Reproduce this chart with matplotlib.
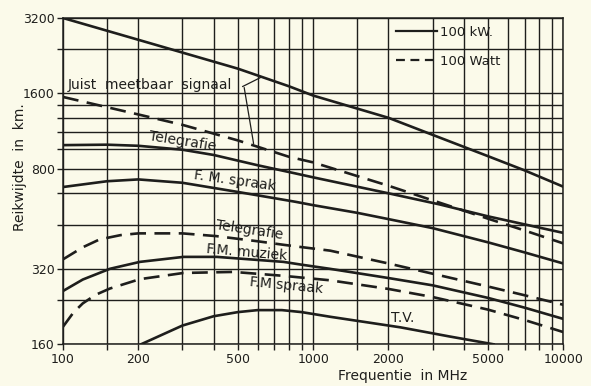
import matplotlib
matplotlib.use("Agg")
import matplotlib.pyplot as plt
from matplotlib.ticker import FixedLocator, FixedFormatter, NullLocator
from matplotlib.lines import Line2D

# ---------------- data ----------------
# 100 kW, "juist meetbaar signaal"
f_juist_kw = [100, 200, 300, 500, 800, 1000, 2000, 3000, 5000, 7000, 10000]
v_juist_kw = [3200, 2620, 2330, 2010, 1710, 1570, 1280, 1095, 900, 790, 680]
# 100 Watt, "juist meetbaar signaal"
f_juist_w = [100, 200, 300, 500, 800, 1000, 2000, 3000, 5000, 7000, 10000]
v_juist_w = [1550, 1320, 1200, 1040, 895, 850, 686, 600, 507, 455, 404]
# 100 kW Telegrafie
f_tel_kw = [100, 150, 200, 300, 400, 600, 850, 1000, 2000, 3200, 5000, 10000]
v_tel_kw = [996, 1000, 990, 955, 910, 828, 768, 741, 640, 578, 518, 445]
# 100 kW F.M. spraak
f_fms_kw = [100, 150, 200, 300, 500, 850, 1000, 1500, 2000, 3000, 5000, 7000, 10000]
v_fms_kw = [678, 715, 727, 705, 648, 592, 574, 535, 505, 465, 408, 372, 336]
# 100 Watt Telegrafie
f_tel_w = [100, 120, 140, 170, 200, 300, 410, 600, 760, 890, 1170, 2000, 3000, 5000, 7000, 10000]
v_tel_w = [349, 390, 419, 436, 443, 443, 432, 412, 399, 391, 378, 336, 306, 272, 251, 230]
# 100 kW F.M. muziek
f_fmm_kw = [100, 120, 154, 203, 303, 412, 761, 887, 1166, 2000, 3000, 5000, 7000, 10000]
v_fmm_kw = [261, 290, 320, 341, 357, 357, 341, 333, 320, 294, 275, 245, 224, 202]
# 100 Watt F.M. spraak
f_fms_w = [100, 110, 120, 135, 154, 203, 303, 480, 761, 1166, 2000, 3000, 5000, 7000, 10000]
v_fms_w = [188, 214, 233, 252, 267, 291, 308, 311, 300, 288, 266, 247, 220, 200, 179]
# 100 kW T.V.
f_tv_kw = [205, 250, 300, 400, 500, 600, 750, 900, 1170, 2230, 3500, 5265]
v_tv_kw = [160, 175, 190, 207, 215, 219, 219, 215, 206, 187, 172, 160]

x_grid = [100, 150, 200, 300, 400, 500, 600, 700, 800, 900, 1000, 1500, 2000,
          3000, 4000, 5000, 6000, 7000, 8000, 9000, 10000]
x_labels = {100: "100", 200: "200", 500: "500", 1000: "1000", 2000: "2000",
            5000: "5000", 10000: "10000"}
y_grid = [160, 240, 320, 480, 640, 800, 960, 1120, 1280, 1440, 1600, 2400, 3200]
y_labels = {160: "160", 320: "320", 800: "800", 1600: "1600", 3200: "3200"}

legend_labels = ["100 kW.", "100 Watt"]
x_title = "Frequentie  in MHz"
y_title = "Reikwijdte  in  km."

# ---------------- style ----------------
BG = "#fbfaea"
INK = "#1e1e1c"
plt.rcParams["font.family"] = ["DejaVu Sans"]

fig = plt.figure(figsize=(5.91, 3.86), dpi=100, facecolor=BG)
ax = fig.add_axes([63 / 591, 1 - 344.3 / 386, 500.3 / 591, 326.3 / 386])
ax.set_facecolor(BG)
ax.set_xscale("log")
ax.set_yscale("log")
ax.set_xlim(100, 10000)
ax.set_ylim(160, 3200)

for s in ax.spines.values():
    s.set_color(INK)
    s.set_linewidth(1.1)

ax.xaxis.set_major_locator(FixedLocator(x_grid))
ax.xaxis.set_major_formatter(FixedFormatter([x_labels.get(v, "") for v in x_grid]))
ax.xaxis.set_minor_locator(NullLocator())
ax.yaxis.set_major_locator(FixedLocator(y_grid))
ax.yaxis.set_major_formatter(FixedFormatter([y_labels.get(v, "") for v in y_grid]))
ax.yaxis.set_minor_locator(NullLocator())
ax.tick_params(axis="both", which="major", direction="out", length=4.5, width=1.0,
               color=INK, labelcolor=INK, labelsize=9, pad=1.5)
ax.grid(True, which="major", color=INK, linewidth=1.0)
ax.set_axisbelow(True)

lw = 1.9
dash = (0, (6, 3.2))
ax.plot(f_juist_kw, v_juist_kw, color=INK, lw=lw)
ax.plot(f_juist_w, v_juist_w, color=INK, lw=lw, linestyle=dash)
ax.plot(f_tel_kw, v_tel_kw, color=INK, lw=lw)
ax.plot(f_fms_kw, v_fms_kw, color=INK, lw=lw)
ax.plot(f_tel_w, v_tel_w, color=INK, lw=lw, linestyle=dash)
ax.plot(f_fmm_kw, v_fmm_kw, color=INK, lw=lw)
ax.plot(f_fms_w, v_fms_w, color=INK, lw=lw, linestyle=dash)
ax.plot(f_tv_kw, v_tv_kw, color=INK, lw=lw)

# legend
handles = [Line2D([], [], color=INK, lw=1.6),
           Line2D([], [], color=INK, lw=1.6, linestyle=(0, (4, 2.5)))]
leg = ax.legend(handles, legend_labels, loc="upper left",
                bbox_to_anchor=((396 - 63) / 500.3, 1 - (26 - 18) / 326.3),
                frameon=False, handlelength=3.1, handletextpad=0.25,
                labelspacing=1.2, fontsize=9.5, borderpad=0, borderaxespad=0)
for t in leg.get_texts():
    t.set_color(INK)

# annotations
tk = dict(color=INK, fontsize=10)
ax.text(104.7, 1730, "Juist  meetbaar  signaal", ha="left", va="center", **tk)
ax.annotate("", xy=(625, 1866), xytext=(522, 1705),
            arrowprops=dict(arrowstyle="-", color=INK, lw=0.9, shrinkA=0, shrinkB=0))
ax.annotate("", xy=(578, 1010), xytext=(530, 1690),
            arrowprops=dict(arrowstyle="-", color=INK, lw=0.9, shrinkA=0, shrinkB=0))

ax.text(300.6, 1028, "Telegrafie", ha="center", va="center", rotation=-9, **tk)
ax.text(485.3, 719, "F. M. spraak", ha="center", va="center", rotation=-8, **tk)
ax.text(554.6, 456, "Telegrafie", ha="center", va="center", rotation=-8.5, **tk)
ax.text(542, 373, "F.M. muziek", ha="center", va="center", rotation=-5, **tk)
ax.text(780, 275, "F.M spraak", ha="center", va="center", rotation=-5.5, **tk)
ax.text(2280, 203, "T.V.", ha="center", va="center", **tk)

fig.text(403 / 591, 1 - 376 / 386, x_title, ha="center", va="center",
         color=INK, fontsize=10)
fig.text(20 / 591, 1 - 167 / 386, y_title, ha="center", va="center",
         rotation=90, color=INK, fontsize=10)

fig.savefig("out.png", dpi=100, facecolor=BG)
